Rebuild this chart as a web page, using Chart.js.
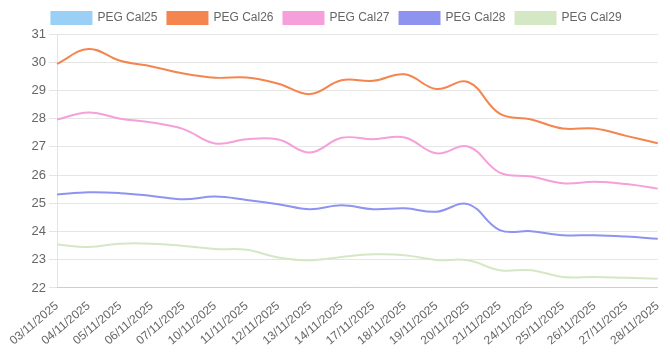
<!DOCTYPE html>
<html><head><meta charset="utf-8">
<script src="https://cdn.jsdelivr.net/npm/chart.js@4"></script>
<style>html,body{margin:0;padding:0;background:#fff}#wrap{width:670px;height:357px}</style>
</head><body><div id="wrap"><canvas id="c"></canvas></div>
<script>
const labels = ["03/11/2025","04/11/2025","05/11/2025","06/11/2025","07/11/2025","10/11/2025","11/11/2025","12/11/2025","13/11/2025","14/11/2025","17/11/2025","18/11/2025","19/11/2025","20/11/2025","21/11/2025","24/11/2025","25/11/2025","26/11/2025","27/11/2025","28/11/2025"];
const cal25 = [];
const cal26 = [29.94,30.47,30.05,29.85,29.6,29.45,29.46,29.24,28.87,29.36,29.34,29.57,29.05,29.3,28.18,27.97,27.65,27.65,27.39,27.13];
const cal27 = [27.97,28.22,28.0,27.86,27.63,27.12,27.27,27.26,26.8,27.32,27.27,27.33,26.77,27.01,26.09,25.95,25.71,25.76,25.68,25.52];
const cal28 = [25.31,25.39,25.36,25.26,25.14,25.24,25.12,24.97,24.79,24.93,24.79,24.82,24.7,24.97,24.05,24.01,23.87,23.87,23.82,23.74];
const cal29 = [23.54,23.45,23.57,23.57,23.49,23.38,23.35,23.08,22.98,23.1,23.19,23.16,22.99,22.98,22.63,22.63,22.39,22.39,22.36,22.33];
const yMin = 22, yMax = 31;

Chart.defaults.font.family = "'Liberation Sans', Arial, sans-serif";
Chart.defaults.font.size = 12;
Chart.defaults.color = '#666';

function ds(label, data, color){
  return {label, data, borderColor: color, backgroundColor: color, borderWidth: 2, pointRadius: 0, tension: 0.4, fill: false};
}
new Chart(document.getElementById('c'), {
  type: 'line',
  data: {labels, datasets: [
    ds('PEG Cal25', cal25, '#9ad0f5'),
    ds('PEG Cal26', cal26, '#f5854e'),
    ds('PEG Cal27', cal27, '#f59fdb'),
    ds('PEG Cal28', cal28, '#8f93f0'),
    ds('PEG Cal29', cal29, '#d5e8c5')
  ]},
  options: {
    responsive: true, maintainAspectRatio: false, animation: false,
    layout: {padding: {left: 9, right: 6, top: 2, bottom: 6}},
    plugins: {legend: {position: 'top'}, tooltip: {enabled: false}},
    scales: {
      x: {grid: {display: false}, ticks: {autoSkip: false, minRotation: 40, maxRotation: 40}},
      y: {min: yMin, max: yMax, ticks: {stepSize: 1, font: {size: 13}},
          afterFit: (s) => { s.width = 48; }}
    }
  }
});
</script></body></html>
